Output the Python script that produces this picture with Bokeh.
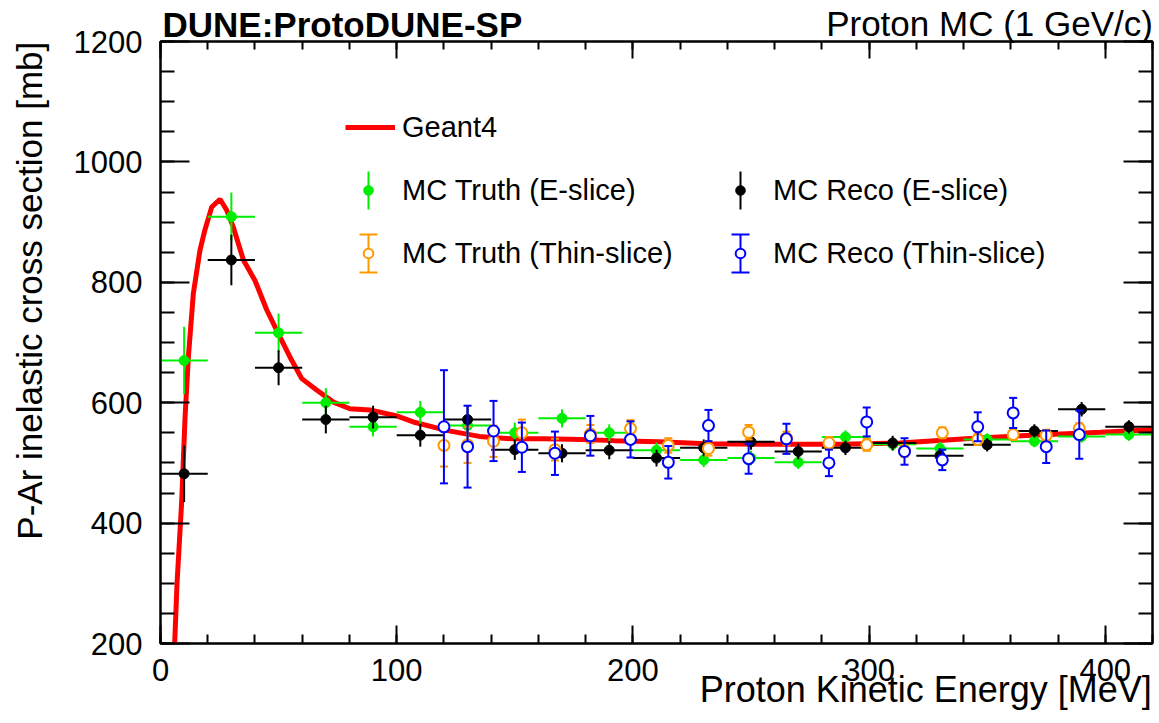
from bokeh.plotting import figure
from bokeh.models import (ColumnDataSource, Legend, LegendItem, BoxAnnotation,
                          LinearAxis, SingleIntervalTicker, FixedTicker, Range1d)
from bokeh.embed import file_html
from bokeh.resources import INLINE

# ---------------- data ----------------
g4_energy = [5.5, 7, 9, 10.4, 11.8, 13.9, 16.7, 18.8, 21.7, 25.2, 28, 30.8, 35.1, 40, 45,
             50.6, 54.8, 59.8, 66.1, 73.2, 80.2, 88.7, 100, 107, 121, 135, 149, 163, 178,
             192, 211, 231, 259, 288, 313, 341, 369, 398, 420]
g4_xsec = [150, 300, 438, 576, 676, 781, 853, 887, 925, 938, 920, 892, 837, 803, 754,
           709, 676, 640, 621, 601, 590, 588, 578, 568, 554, 544, 540, 540, 539,
           537, 535, 532, 531, 531, 533, 540, 546, 551, 555]

eslice_energy = [10, 30, 50, 70, 90, 110, 130, 150, 170, 190, 210, 230, 250, 270, 290,
                 310, 330, 350, 370, 390, 410]
eslice_half_width = [10] * 21
truth_eslice_xsec = [670, 909, 716, 600, 560, 584, 562, 550, 574, 550, 521, 505, 508, 501,
                     543, 531, 524, 539, 536, 544, 547]
truth_eslice_err = [56, 40, 32, 24, 16, 19, 18, 17, 15, 14, 13, 12, 12, 11, 11, 11, 11, 10,
                    10, 10, 10]
reco_eslice_xsec = [482, 837, 658, 572, 576, 546, 572, 522, 516, 521, 508, 525, 535, 519,
                    525, 533, 512, 530, 553, 589, 560]
reco_eslice_err = [47, 42, 29, 23, 19, 19, 23, 17, 15, 15, 14, 14, 13, 13, 12, 12, 12, 11,
                   11, 12, 11]

thin_energy = [120, 130, 141, 153, 167, 182, 199, 215, 232, 249, 265, 283, 299, 315, 331,
               346, 361, 375, 389]
truth_thin_xsec = [529, 530, 536, 550, 522, 548, 557, 529, 524, 551, 541, 533, 530, 520,
                   550, 539, 547, 546, 557]
truth_thin_err = [35, 30, 26, 22, 18, 15, 14, 12, 12, 12, 11, 10, 10, 10, 9, 9, 9, 9, 9]
reco_thin_xsec = [560, 527, 553, 526, 516, 545, 539, 501, 562, 507, 540, 500, 568, 519,
                  505, 560, 583, 527, 547]
reco_thin_err = [94, 68, 50, 41, 36, 33, 30, 27, 26, 25, 25, 22, 24, 22, 17, 24, 25, 27, 40]

x_range = (0, 420)
y_range = (200, 1200)
x_major_step, x_minor_per_major = 100, 5
y_major_step, y_minor_per_major = 200, 4

title_left = "DUNE:ProtoDUNE-SP"
title_right = "Proton MC (1 GeV/c)"
x_title = "Proton Kinetic Energy [MeV]"
y_title = "P-Ar inelastic cross section [mb]"

# anchor positions (axis units) of the text blocks placed around the frame
title_left_at, title_right_at = 77, 351
x_title_at, y_title_at = 324, 786

# ---------------- layout ----------------
W, H = 1159, 723
BL, BR, BT, BB = 160, 7, 41, 80
FW, FH = W - BL - BR, H - BT - BB
FONT = "Liberation Sans"

RED, GREEN, BLACK, ORANGE, BLUE = "#ff0000", "#00ee00", "#000000", "#ff9900", "#0000ff"

p = figure(width=W, height=H, x_range=Range1d(*x_range), y_range=Range1d(*y_range),
           output_backend="svg", toolbar_location=None,
           min_border_left=BL, min_border_right=BR, min_border_top=BT, min_border_bottom=BB,
           x_axis_location=None, y_axis_location=None)
p.xgrid.visible = False
p.ygrid.visible = False
p.outline_line_color = "black"
p.outline_line_width = 2
p.background_fill_color = "white"
p.border_fill_color = "white"


def make_axis(ticker, major_in, minor_in, show_labels, standoff):
    ax = LinearAxis(ticker=ticker, axis_line_width=2, axis_line_color="black",
                    major_tick_in=major_in, major_tick_out=0, minor_tick_in=minor_in,
                    minor_tick_out=0, major_tick_line_width=2, minor_tick_line_width=2,
                    major_tick_line_color="black", minor_tick_line_color="black",
                    major_label_standoff=standoff)
    if show_labels:
        ax.major_label_text_font = FONT
        ax.major_label_text_font_size = "31px"
        ax.major_label_text_color = "black"
    else:
        ax.major_label_text_font_size = "0px"
        ax.major_label_text_color = None
    return ax


def text_axis(at, text, size, standoff, bold=False, vertical=False):
    """An axis without line or ticks that only carries one text block."""
    ax = LinearAxis(ticker=FixedTicker(ticks=[at], minor_ticks=[]),
                    major_label_overrides={at: text},
                    axis_line_color=None, major_tick_line_color=None,
                    minor_tick_line_color=None, major_tick_in=0, major_tick_out=0,
                    minor_tick_in=0, minor_tick_out=0, major_label_standoff=standoff,
                    major_label_text_font=FONT, major_label_text_font_size=f"{size}px",
                    major_label_text_font_style="bold" if bold else "normal",
                    major_label_text_color="black")
    if vertical:
        ax.major_label_orientation = "vertical"
    return ax


xt = lambda: SingleIntervalTicker(interval=x_major_step, num_minor_ticks=x_minor_per_major)
yt = lambda: SingleIntervalTicker(interval=y_major_step, num_minor_ticks=y_minor_per_major)
p.add_layout(make_axis(xt(), 18, 9, True, 15), "below")
p.add_layout(text_axis(x_title_at, x_title, 36, -15), "below")
p.add_layout(make_axis(xt(), 17, 8, False, 0), "above")
p.add_layout(text_axis(title_left_at, title_left, 35, -2, bold=True), "above")
p.add_layout(text_axis(title_right_at, title_right, 35, -41), "above")
p.add_layout(make_axis(yt(), 29, 14, True, 18), "left")
p.add_layout(text_axis(y_title_at, y_title, 35, 21, vertical=True), "left")
p.add_layout(make_axis(yt(), 29, 14, False, 0), "right")

# ---------------- glyphs ----------------
src_g4 = ColumnDataSource(dict(x=g4_energy, y=g4_xsec))
r_g4 = p.line("x", "y", source=src_g4, line_color=RED, line_width=5)


def eslice(xsec, err, color):
    src = ColumnDataSource(dict(
        x=eslice_energy, y=xsec,
        x0=[e - w for e, w in zip(eslice_energy, eslice_half_width)],
        x1=[e + w for e, w in zip(eslice_energy, eslice_half_width)],
        y0=[v - e for v, e in zip(xsec, err)], y1=[v + e for v, e in zip(xsec, err)]))
    p.segment("x0", "y", "x1", "y", source=src, line_color=color, line_width=2)
    p.segment("x", "y0", "x", "y1", source=src, line_color=color, line_width=2)
    return p.scatter("x", "y", source=src, marker="circle", size=10,
                     fill_color=color, line_color=color)


def thin(xsec, err, color):
    src = ColumnDataSource(dict(
        x=thin_energy, y=xsec,
        y0=[v - e for v, e in zip(xsec, err)], y1=[v + e for v, e in zip(xsec, err)]))
    p.segment("x", "y0", "x", "y1", source=src, line_color=color, line_width=2)
    p.scatter("x", "y0", source=src, marker="dash", size=8, line_color=color, line_width=2)
    p.scatter("x", "y1", source=src, marker="dash", size=8, line_color=color, line_width=2)
    return p.scatter("x", "y", source=src, marker="circle", size=11,
                     fill_color="white", line_color=color, line_width=2)


r_te = eslice(truth_eslice_xsec, truth_eslice_err, GREEN)
r_re = eslice(reco_eslice_xsec, reco_eslice_err, BLACK)
r_tt = thin(truth_thin_xsec, truth_thin_err, ORANGE)
r_rt = thin(reco_thin_xsec, reco_thin_err, BLUE)

# ---------------- legend ----------------
# screen positions (frame-relative, y up from the frame bottom)
row_g4, row_e, row_t = FH - (127 - BT), FH - (190 - BT), FH - (253 - BT)
col_l, col_r = 368 - BL, 740 - BL
bar_half, cap_half = 19, 9


def sbox(x0, x1, y0, y1, color):
    p.add_layout(BoxAnnotation(left=x0, right=x1, bottom=y0, top=y1,
                               left_units="screen", right_units="screen",
                               top_units="screen", bottom_units="screen",
                               fill_color=color, fill_alpha=1.0, line_color=None))


for cx, ce, ct in [(col_l, GREEN, ORANGE), (col_r, BLACK, BLUE)]:
    sbox(cx - 1, cx + 1, row_e - bar_half, row_e + bar_half, ce)
    sbox(cx - 1, cx + 1, row_t - bar_half, row_t + bar_half, ct)
    sbox(cx - cap_half, cx + cap_half, row_t + bar_half - 1, row_t + bar_half + 1, ct)
    sbox(cx - cap_half, cx + cap_half, row_t - bar_half - 1, row_t - bar_half + 1, ct)

GH = 36
GW = 24


def legend(items, loc, gw, standoff, spacing):
    lg = Legend(items=items, location=loc, glyph_width=int(gw), glyph_height=GH,
                label_height=GH, label_standoff=int(standoff), spacing=int(spacing),
                padding=0, margin=0, border_line_color=None, background_fill_alpha=0,
                label_text_font=FONT, label_text_font_size="29px", label_text_color="black")
    p.add_layout(lg)


legend([LegendItem(label="Geant4", renderers=[r_g4])],
       (345 - BL, row_g4 - GH // 2), 50, 7, 0)
legend([LegendItem(label="MC Truth (E-slice)", renderers=[r_te]),
        LegendItem(label="MC Truth (Thin-slice)", renderers=[r_tt])],
       (col_l - GW // 2, row_t - GH // 2), GW, 22, (row_e - row_t) - GH)
legend([LegendItem(label="MC Reco (E-slice)", renderers=[r_re]),
        LegendItem(label="MC Reco (Thin-slice)", renderers=[r_rt])],
       (col_r - GW // 2, row_t - GH // 2), GW, 21, (row_e - row_t) - GH)

open("out.html", "w").write(file_html(p, INLINE))
